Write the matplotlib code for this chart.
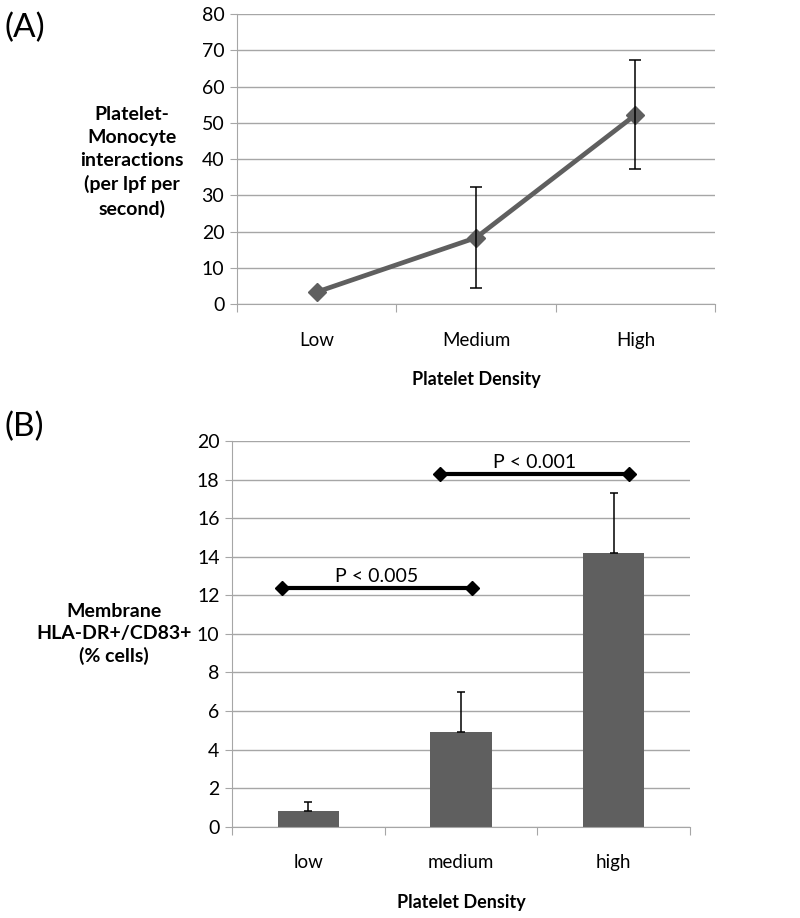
import matplotlib.pyplot as plt

plt.rcParams['font.family'] = ['Lato', 'DejaVu Sans']

# panel A data
cats_a = ['Low', 'Medium', 'High']
vals_a = [3.3, 18.3, 52.2]
err_a = [0, 14.0, 15.0]

# panel B data
cats_b = ['low', 'medium', 'high']
vals_b = [0.8, 4.9, 14.2]
err_b = [0.5, 2.1, 3.1]

# significance brackets: (x start, x end, y, label)
brackets = [(-0.17, 1.07, 12.4, 'P < 0.005'), (0.86, 2.1, 18.3, 'P < 0.001')]

gray = '#5f5f5f'
grid = '#a6a6a6'

fig = plt.figure(figsize=(8, 9.18), dpi=100)
ax1 = fig.add_axes([0.296, 0.6688, 0.598, 0.3159])
ax2 = fig.add_axes([0.29, 0.0995, 0.5725, 0.4201])


def style(ax, cats, ymax, ystep):
    ax.set_xlim(-0.5, 2.5)
    ax.set_ylim(0, ymax)
    ax.set_yticks(range(0, ymax + 1, ystep))
    ax.set_xticks([-0.5, 0.5, 1.5, 2.5])
    ax.set_xticklabels([])
    ax.set_xticks([0, 1, 2], minor=True)
    ax.set_xticklabels(cats, minor=True, fontsize=13.5)
    ax.tick_params(axis='x', which='major', length=6, color=grid, direction='out')
    ax.tick_params(axis='x', which='minor', length=0, pad=20)
    ax.tick_params(axis='y', length=5, color=grid, labelsize=14, pad=4)
    ax.yaxis.grid(True, color=grid, linewidth=1)
    ax.set_axisbelow(True)
    for s in ['top', 'right']:
        ax.spines[s].set_visible(False)
    for s in ['left', 'bottom']:
        ax.spines[s].set_color(grid)


style(ax1, cats_a, 80, 10)
ax1.plot(range(3), vals_a, color=gray, linewidth=3.4, marker='D', markersize=9, zorder=3)
ax1.errorbar([1, 2], vals_a[1:], yerr=err_a[1:], fmt='none', ecolor='black',
             elinewidth=1.1, capsize=4, capthick=1.1, zorder=4)
ax1.set_xlabel('Platelet Density', fontsize=13, fontweight='bold', labelpad=16)
fig.text(0.165, 0.8235, 'Platelet-\nMonocyte\ninteractions\n(per lpf per\nsecond)',
         ha='center', va='center', fontsize=14, fontweight='bold', linespacing=1.42)
fig.text(0.005, 0.9695, '(A)', fontsize=24, va='center')

style(ax2, cats_b, 20, 2)
ax2.bar(range(3), vals_b, width=0.4, color=gray, zorder=2)
ax2.errorbar(range(3), vals_b, yerr=[[0, 0, 0], err_b], fmt='none', ecolor='black',
             elinewidth=1.1, capsize=3, capthick=1.1, zorder=3)
for x0, x1, y, lab in brackets:
    ax2.plot([x0, x1], [y, y], color='black', linewidth=3, marker='D', markersize=7,
             zorder=4, clip_on=False)
    ax2.text((x0 + x1) / 2, y + 0.15, lab, ha='center', va='bottom', fontsize=14)
ax2.set_xlabel('Platelet Density', fontsize=13, fontweight='bold', labelpad=16)
fig.text(0.142, 0.309, 'Membrane\nHLA-DR+/CD83+\n(% cells)',
         ha='center', va='center', fontsize=14, fontweight='bold', linespacing=1.35)
fig.text(0.005, 0.535, '(B)', fontsize=24, va='center')

fig.savefig('out.png', dpi=100)
